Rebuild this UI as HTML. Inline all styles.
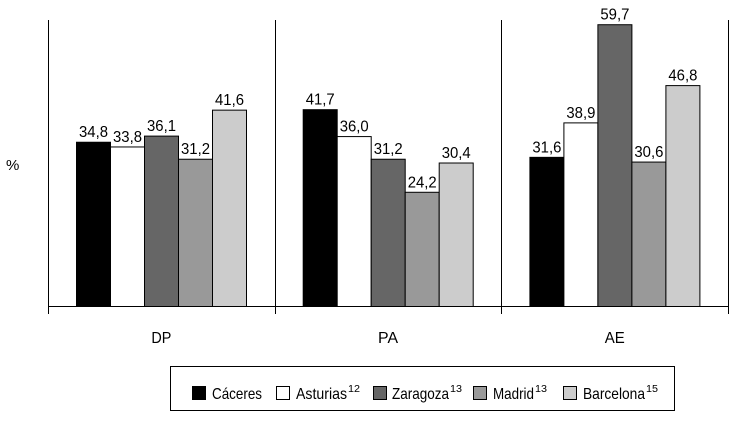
<!DOCTYPE html>
<html><head><meta charset="utf-8"><style>
body{margin:0;background:#fff;}
svg text{font-family:"Liberation Sans Narrow","Liberation Sans",sans-serif;}
</style></head><body>
<svg width="730" height="423" xmlns="http://www.w3.org/2000/svg" id="chart">
<g id="plot"></g>
<text x="6" y="170" font-size="15">%</text>
<g>
<rect x="170.5" y="366.5" width="504" height="44" fill="#fff" stroke="#000"/>
<g id="legend"></g>
</g>
</svg>
<script>
const categories=["DP","PA","AE"];
const seriesNames=["Cáceres","Asturias","Zaragoza","Madrid","Barcelona"];
const seriesSup=["","12","13","13","15"];
const caceres=[34.8,41.7,31.6];
const asturias=[33.8,36.0,38.9];
const zaragoza=[36.1,31.2,59.7];
const madrid=[31.2,24.2,30.6];
const barcelona=[41.6,30.4,46.8];
const series=[caceres,asturias,zaragoza,madrid,barcelona];
const colors=["#000","#fff","#666","#999","#ccc"];
const NS="http://www.w3.org/2000/svg";
const x0=48,groupW=226.7,base=306.5,pxPer=4.72,barW=34,barOff=28;
const y=v=>base-v*pxPer;
const plot=document.getElementById('plot');
function mk(tag,attrs,parent){const e=document.createElementNS(NS,tag);for(const k in attrs)e.setAttribute(k,attrs[k]);parent.appendChild(e);return e;}
categories.forEach((c,gi)=>{
  const gx=x0+gi*groupW;
  series.forEach((s,si)=>{
    const bx=gx+barOff+si*barW;
    const r=mk('rect',{x:bx+0.5,y:y(s[gi]),width:barW,height:base-y(s[gi]),fill:colors[si],stroke:'#000','stroke-width':1},plot);
    
    
    const t=mk('text',{x:bx+barW/2+0.5,y:y(s[gi])-5,'font-size':16,'text-anchor':'middle',textLength:29,lengthAdjust:'spacingAndGlyphs'},plot);
    t.textContent=s[gi].toFixed(1).replace('.',',');
    
    
  });
  const lab=mk('text',{x:gx+groupW/2,y:343,'font-size':16,'text-anchor':'middle',textLength:20,lengthAdjust:'spacingAndGlyphs'},plot);
  lab.textContent=c;
  
  
});
for(let i=0;i<=3;i++){
  const lx=Math.round(x0+i*groupW)+0.5;
  const l=mk('line',{x1:lx,x2:lx,y1:20,y2:314,stroke:'#000'},plot);
  
  
}
const ax=mk('line',{x1:48,x2:729,y1:base,y2:base,stroke:'#000'},plot);


const lg=document.getElementById('legend');
const swX=[192,276,373,473,563];
const txX=[212,296,392,493,583];
const txW=[50,51,57,41,62];
seriesNames.forEach((n,i)=>{
  const r=mk('rect',{x:swX[i]+0.5,y:386.5,width:13,height:13,fill:colors[i],stroke:'#000'},lg);
  
  
  const t=mk('text',{x:txX[i],y:399,'font-size':16,textLength:txW[i],lengthAdjust:'spacingAndGlyphs'},lg);
  t.textContent=n;
  
  
  if(seriesSup[i]){
    const s=mk('text',{x:txX[i]+txW[i]+1,y:392,'font-size':10,textLength:12,lengthAdjust:'spacingAndGlyphs'},lg);
    s.textContent=seriesSup[i];
    
    
  }
});
</script>
</body></html>
